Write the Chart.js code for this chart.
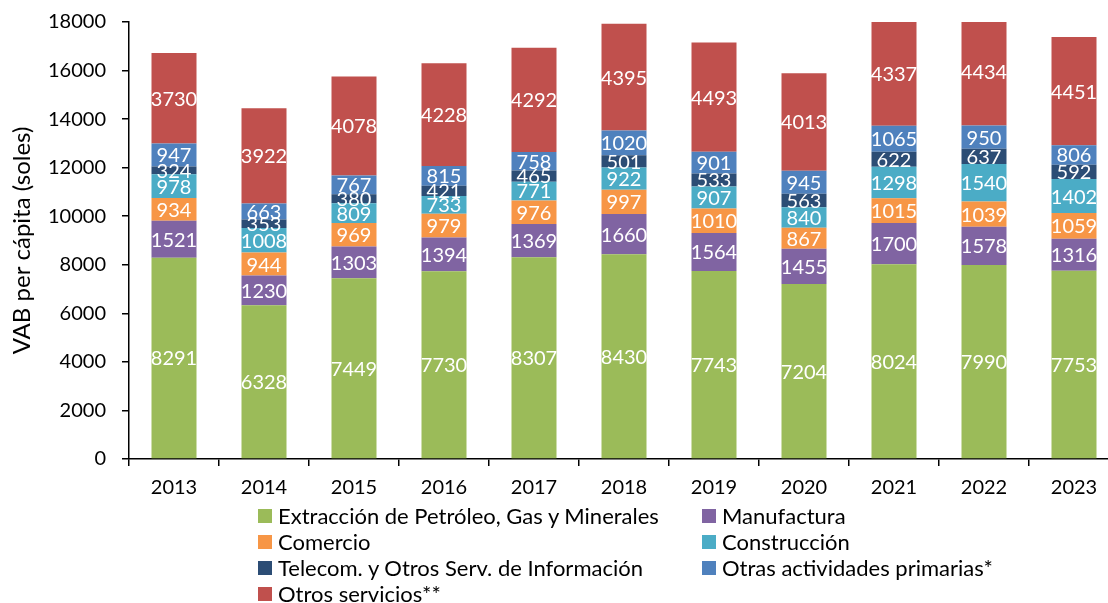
<!DOCTYPE html>
<html lang="es">
<head>
<meta charset="utf-8">
<title>VAB per cápita por actividad económica</title>
<script src="https://cdn.jsdelivr.net/npm/chart.js@4.4.1/dist/chart.umd.min.js"></script>
<style>
  html, body { margin: 0; padding: 0; background: #fff; overflow: hidden; }
  #wrap { position: relative; width: 1108px; height: 603px; overflow: hidden; }
  canvas { position: absolute; left: 0; top: 0; }
  .leg { position: absolute; font: 22px Lato, "DejaVu Sans", sans-serif; line-height: 26px; color: #000; white-space: nowrap; }
  .leg i { position: absolute; left: 0; top: 6px; width: 14px; height: 14px; }
  .leg span { position: absolute; left: 20px; top: 0; }
</style>
</head>
<body>
<div id="wrap">
  <canvas id="c" width="1125" height="603"></canvas>
</div>
<script>
// Years on the category axis
const years = ['2013','2014','2015','2016','2017','2018','2019','2020','2021','2022','2023'];

// Value added per capita by activity (soles)
const extraccion   = [8291, 6328, 7449, 7730, 8307, 8430, 7743, 7204, 8024, 7990, 7753];
const manufactura  = [1521, 1230, 1303, 1394, 1369, 1660, 1564, 1455, 1700, 1578, 1316];
const comercio     = [934, 944, 969, 979, 976, 997, 1010, 867, 1015, 1039, 1059];
const construccion = [978, 1008, 809, 733, 771, 922, 907, 840, 1298, 1540, 1402];
const telecom      = [324, 353, 380, 421, 465, 501, 533, 563, 622, 637, 592];
const otrasPrim    = [947, 663, 767, 815, 758, 1020, 901, 945, 1065, 950, 806];
const otrosServ    = [3730, 3922, 4078, 4228, 4292, 4395, 4493, 4013, 4337, 4434, 4451];

// Y axis range and step
const yMin = 0, yMax = 18000, yStep = 2000;

const FONT = 'Lato, "DejaVu Sans", sans-serif';

const series = [
  { label: 'Extracción de Petróleo, Gas y Minerales', data: extraccion,   color: '#9BBB59', col: 0, row: 0 },
  { label: 'Manufactura',                             data: manufactura,  color: '#8064A2', col: 1, row: 0 },
  { label: 'Comercio',                                data: comercio,     color: '#F79646', col: 0, row: 1 },
  { label: 'Construcción',                            data: construccion, color: '#4BACC6', col: 1, row: 1 },
  { label: 'Telecom. y Otros Serv. de Información',   data: telecom,      color: '#2C4D75', col: 0, row: 2 },
  { label: 'Otras actividades primarias*',            data: otrasPrim,    color: '#4F81BD', col: 1, row: 2 },
  { label: 'Otros servicios**',                       data: otrosServ,    color: '#C0504D', col: 0, row: 3 }
];

// White value labels centred in every stacked segment
const segmentLabels = {
  id: 'segmentLabels',
  afterDatasetsDraw(chart) {
    const ctx = chart.ctx;
    ctx.save();
    ctx.font = '20px ' + FONT;
    ctx.fillStyle = '#ffffff';
    ctx.textAlign = 'center';
    ctx.textBaseline = 'middle';
    chart.data.datasets.forEach((ds, i) => {
      const meta = chart.getDatasetMeta(i);
      meta.data.forEach((el, j) => {
        const p = el.getCenterPoint();
        ctx.fillText(String(ds.data[j]), p.x, p.y + 1);
      });
    });
    ctx.restore();
  }
};

new Chart(document.getElementById('c'), {
  type: 'bar',
  data: {
    labels: years,
    datasets: series.map(s => ({
      label: s.label,
      data: s.data,
      backgroundColor: s.color,
      borderWidth: 0,
      categoryPercentage: 1,
      barPercentage: 0.5
    }))
  },
  options: {
    responsive: false,
    animation: false,
    devicePixelRatio: 1,
    layout: { padding: { left: 8, top: 22, right: 6, bottom: 0 } },
    plugins: {
      legend: { display: false },
      tooltip: { enabled: false }
    },
    scales: {
      x: {
        stacked: true,
        grid: { drawOnChartArea: false, drawTicks: true, tickLength: 7, color: '#000', lineWidth: 1.5, offset: true },
        border: { display: true, color: '#000', width: 1.5 },
        ticks: { color: '#000', font: { family: FONT, size: 20 }, padding: 10, maxRotation: 0, autoSkip: false },
        afterFit(scale) { scale.height = 144; }
      },
      y: {
        stacked: true,
        min: yMin,
        max: yMax,
        grid: { drawOnChartArea: false, drawTicks: true, tickLength: 7, color: '#000', lineWidth: 1.5 },
        border: { display: true, color: '#000', width: 1.5 },
        ticks: {
          stepSize: yStep,
          color: '#000',
          font: { family: FONT, size: 20 },
          padding: 16,
          callback: v => String(v)
        },
        title: {
          display: true,
          text: 'VAB per cápita (soles)',
          color: '#000',
          font: { family: FONT, size: 24 },
          padding: { top: 0, bottom: 0 }
        },
        afterFit(scale) {
          scale.width = 121;
          scale.paddingTop = 0;
          scale.paddingBottom = 0;
        }
      }
    }
  },
  plugins: [segmentLabels]
});

// Two-column legend beneath the axis
const wrap = document.getElementById('wrap');
const colLeft = [258, 702];
const rowCenter = [516, 542, 568, 594];
series.forEach(s => {
  const item = document.createElement('div');
  item.className = 'leg';
  item.style.left = colLeft[s.col] + 'px';
  item.style.top = (rowCenter[s.row] - 13) + 'px';
  const box = document.createElement('i');
  box.style.background = s.color;
  const txt = document.createElement('span');
  txt.textContent = s.label;
  item.appendChild(box);
  item.appendChild(txt);
  wrap.appendChild(item);
});
</script>
</body>
</html>
